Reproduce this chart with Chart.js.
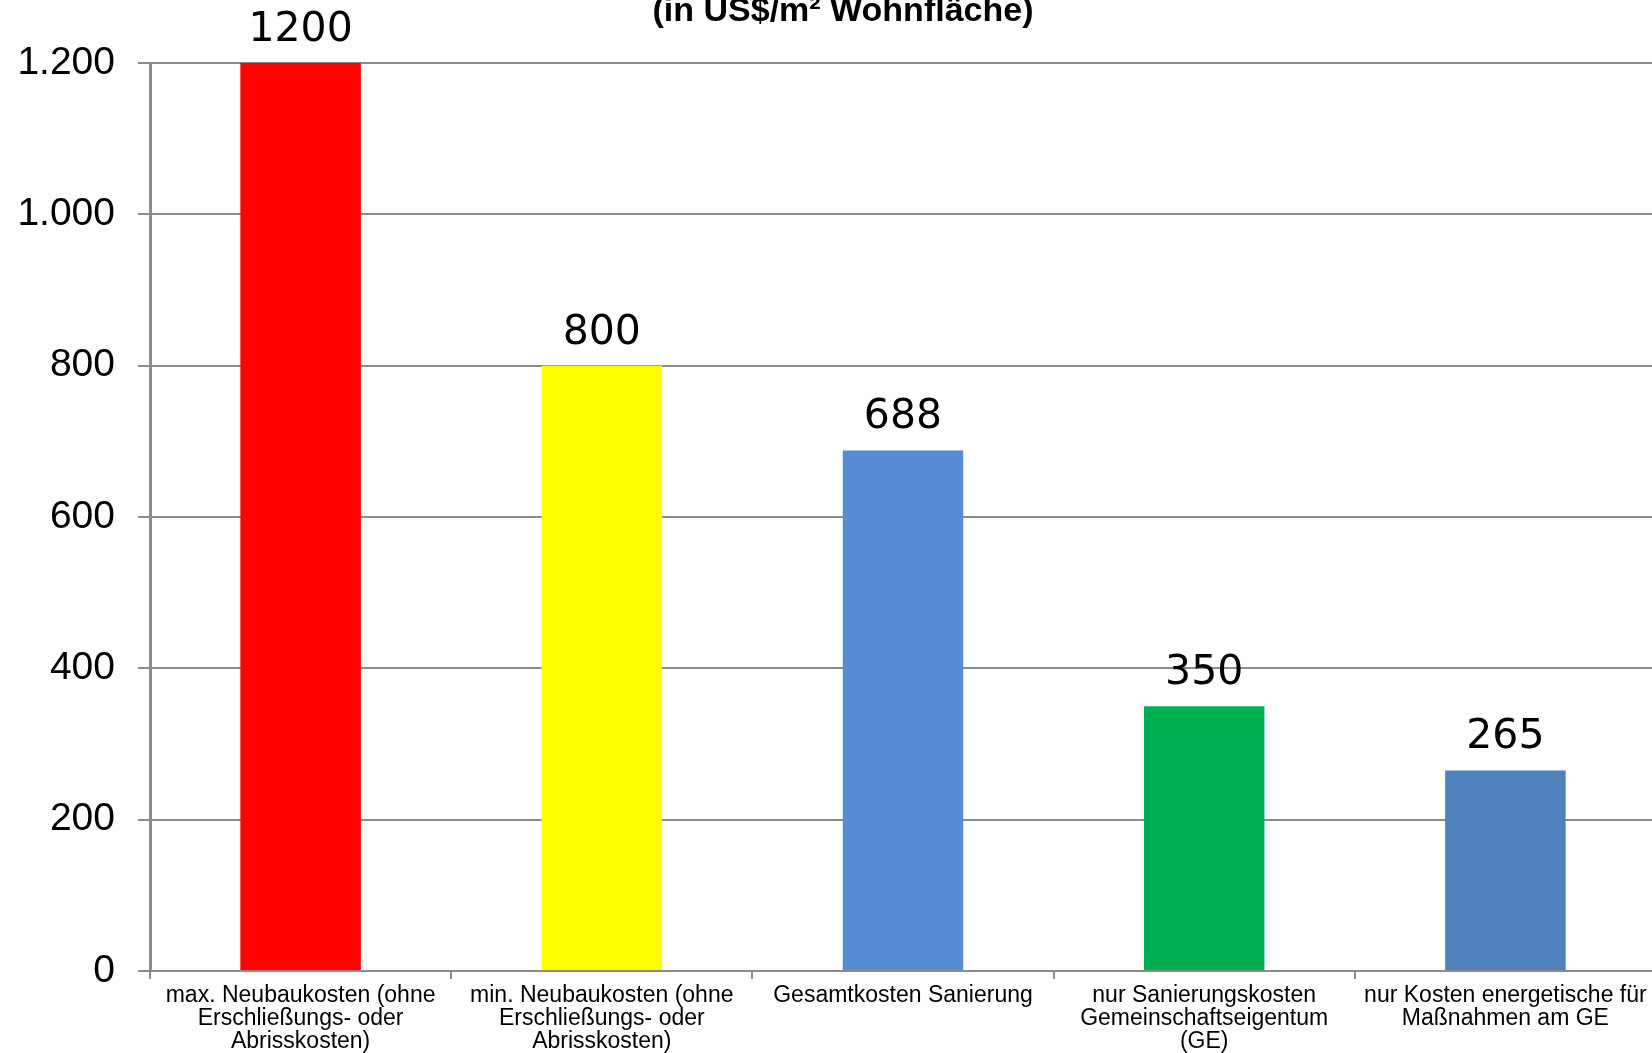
<!DOCTYPE html>
<html>
<head>
<meta charset="utf-8">
<script src="https://cdn.jsdelivr.net/npm/chart.js@4"></script>
<style>
html, body { margin: 0; padding: 0; background: #fff; overflow: hidden; }
#wrap { width: 1652px; height: 1053px; overflow: hidden; }
</style>
</head>
<body>
<div id="wrap"><canvas id="costChart" width="1656" height="1053"></canvas></div>
<script>
// DATA
const categories = [
  ['max. Neubaukosten (ohne', 'Erschließungs- oder', 'Abrisskosten)'],
  ['min. Neubaukosten (ohne', 'Erschließungs- oder', 'Abrisskosten)'],
  'Gesamtkosten Sanierung',
  ['nur Sanierungskosten', 'Gemeinschaftseigentum', '(GE)'],
  ['nur Kosten energetische für', 'Maßnahmen am GE']
];
const costs = [1200, 800, 688, 350, 265];
const barColors = ['#FF0000', '#FFFF00', '#558ED5', '#00B050', '#4F81BD'];
const yTicks = [0, 200, 400, 600, 800, 1000, 1200];
const titleText = '(in US$/m² Wohnfläche)';

const gridGrey = '#8C8C8C';

// thousands separator like "1.200"
function fmt(v){
  return String(v).replace(/\B(?=(\d{3})+(?!\d))/g, '.');
}

// value labels above the bars
const valueLabels = {
  id: 'valueLabels',
  afterDatasetsDraw(chart){
    const c = chart.ctx;
    const meta = chart.getDatasetMeta(0);
    c.save();
    c.font = '41px "DejaVu Sans"';
    c.fillStyle = '#000';
    c.textAlign = 'center';
    c.textBaseline = 'alphabetic';
    meta.data.forEach((bar, i) => {
      c.fillText(String(costs[i]), bar.x, bar.y - 22);
    });
    c.restore();
  }
};

// title (top line is cut off in the original)
const topTitle = {
  id: 'topTitle',
  afterDraw(chart){
    const c = chart.ctx;
    c.save();
    c.font = 'bold 34px "Liberation Sans", Arial';
    c.fillStyle = '#000';
    c.textAlign = 'center';
    c.textBaseline = 'alphabetic';
    c.fillText(titleText, 843, 21);
    c.restore();
  }
};

const ctx = document.getElementById('costChart');

new Chart(ctx, {
  type: 'bar',
  data: {
    labels: categories,
    datasets: [{
      data: costs,
      backgroundColor: barColors,
      borderWidth: 0,
      barPercentage: 0.4,
      categoryPercentage: 1
    }]
  },
  options: {
    responsive: false,
    animation: false,
    layout: { padding: { top: 63, right: 0, bottom: 0, left: 0 } },
    plugins: {
      legend: { display: false },
      tooltip: { enabled: false },
      title: { display: false }
    },
    scales: {
      x: {
        grid: {
          drawOnChartArea: false,
          drawTicks: true,
          tickLength: 8,
          color: gridGrey,
          lineWidth: 2
        },
        border: { color: gridGrey, width: 2 },
        ticks: {
          color: '#000',
          maxRotation: 0,
          autoSkip: false,
          padding: 5,
          font: { family: '"Liberation Sans", Arial', size: 23, lineHeight: 1.0 }
        },
        afterFit(scale){ scale.height = 82; }
      },
      y: {
        min: 0,
        max: 1200,
        afterBuildTicks(scale){ scale.ticks = yTicks.map(v => ({ value: v })); },
        grid: {
          color: gridGrey,
          lineWidth: 2,
          tickLength: 12
        },
        border: { color: gridGrey, width: 3 },
        ticks: {
          color: '#000',
          padding: 23,
          font: { family: '"Liberation Sans", Arial', size: 39 },
          callback: v => fmt(v)
        },
        afterFit(scale){ scale.width = 150; }
      }
    }
  },
  plugins: [valueLabels, topTitle]
});
</script>
</body>
</html>
